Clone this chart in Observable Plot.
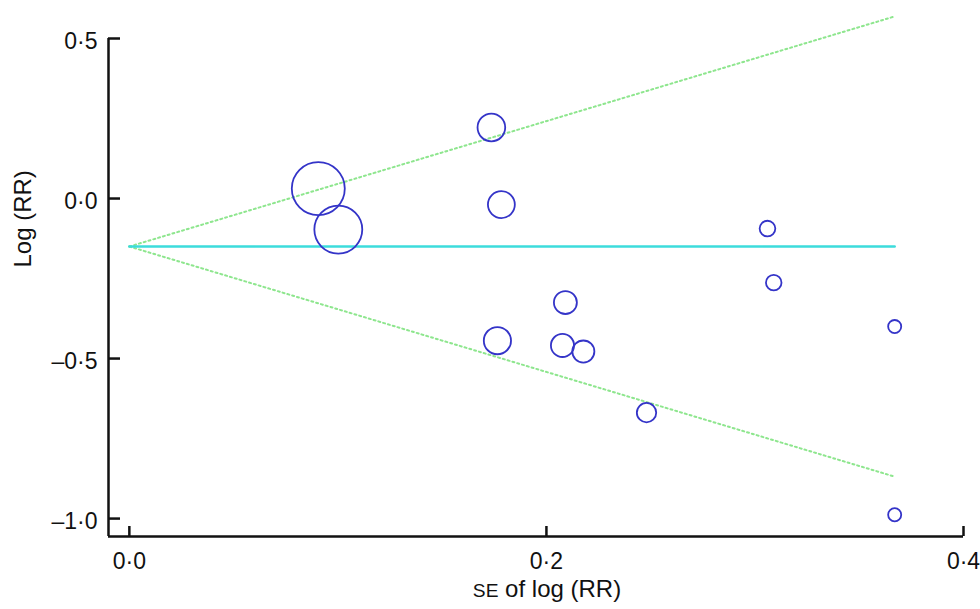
<!DOCTYPE html>
<html>
<head>
<meta charset="utf-8">
<script src="https://cdn.jsdelivr.net/npm/d3@7"></script>
<script src="https://cdn.jsdelivr.net/npm/@observablehq/plot@0.6"></script>
<style>
  html, body { margin: 0; padding: 0; background: #fff; }
  #chart svg { display: block; font-family: "Liberation Sans", Arial, sans-serif; }
</style>
</head>
<body>
<div id="chart"></div>
<script>
// Study data: standard error of log(RR) and log(RR)
const studySE    = [0.0906, 0.1002, 0.1736, 0.1784, 0.2091, 0.1765, 0.2077, 0.2177, 0.248, 0.306, 0.309, 0.367, 0.367];
const studyLogRR = [0.031, -0.097, 0.222, -0.019, -0.325, -0.444, -0.459, -0.478, -0.669, -0.094, -0.263, -0.400, -0.988];

// Pooled estimate and pseudo 95% confidence limits
const pooledLogRR = -0.15;
const lineSE      = [0, 0.367];
const funnelUpper = [-0.15, 0.569];
const funnelLower = [-0.15, -0.869];

// Axes
const xTicks = [0, 0.2, 0.4];
const yTicks = [0.5, 0, -0.5, -1.0];
const xDomain = [-0.01, 0.4];
const yDomain = [-1.056, 0.5];
const xLabel = "SE of log (RR)";
const yLabel = "Log (RR)";

const studies = studySE.map((se, i) => ({se, logRR: studyLogRR[i]}));
const funnel = lineSE.map((se, i) => ({se, upper: funnelUpper[i], lower: funnelLower[i], pooled: pooledLogRR}));

const fmt = d => (d < 0 ? "\u2013" : "") + Math.abs(d).toFixed(1).replace(".", "\u00B7");

const axisColor = "#111";
const plot = Plot.plot({
  width: 980,
  height: 609,
  marginLeft: 108,
  marginRight: 17,
  marginTop: 38,
  marginBottom: 73,
  style: {fontFamily: "'Liberation Sans', Arial, sans-serif", background: "#fff", color: axisColor},
  x: {domain: xDomain},
  y: {domain: yDomain},
  r: {range: [0, 26.5]},
  marks: [
    Plot.line(funnel, {x: "se", y: "upper", stroke: "#8ee68e", strokeWidth: 2, strokeDasharray: "2,3"}),
    Plot.line(funnel, {x: "se", y: "lower", stroke: "#8ee68e", strokeWidth: 2, strokeDasharray: "2,3"}),
    Plot.line(funnel, {x: "se", y: "pooled", stroke: "#3cdcdc", strokeWidth: 2.5}),
    Plot.dot(studies, {x: "se", y: "logRR", r: d => 1 / (d.se * d.se), stroke: "#3434c8", strokeWidth: 1.8, fill: "none"}),
    Plot.ruleX([xDomain[0]], {stroke: axisColor, strokeWidth: 2.5}),
    Plot.ruleY([yDomain[0]], {stroke: axisColor, strokeWidth: 2.5}),
    Plot.axisY(yTicks, {anchor: "left", tickSize: -12, tickFormat: () => "", label: null, strokeWidth: 2.5}),
    Plot.axisY(yTicks, {anchor: "left", tickSize: 0, tickPadding: 11, tickFormat: fmt, label: null, fontSize: 23, dy: 3}),
    Plot.axisX(xTicks, {anchor: "bottom", tickSize: -10, tickFormat: () => "", label: null, strokeWidth: 2.5}),
    Plot.axisX(xTicks, {anchor: "bottom", tickSize: 0, tickPadding: 16, tickFormat: fmt, label: null, fontSize: 23}),
    Plot.text([yLabel], {frameAnchor: "left", rotate: -90, dx: -85, dy: -20, fontSize: 24}),
    Plot.text([xLabel], {frameAnchor: "bottom", dx: 11, dy: 60, fontSize: 24})
  ]
});

// render "SE" in small capitals
d3.select(plot).selectAll("text").filter(function() { return this.textContent === xLabel; })
  .each(function() {
    const t = d3.select(this);
    t.text(null);
    t.append("tspan").attr("font-size", "0.8em").text("SE");
    t.append("tspan").text(" of log (RR)");
  });

document.getElementById("chart").appendChild(plot);
</script>
</body>
</html>
